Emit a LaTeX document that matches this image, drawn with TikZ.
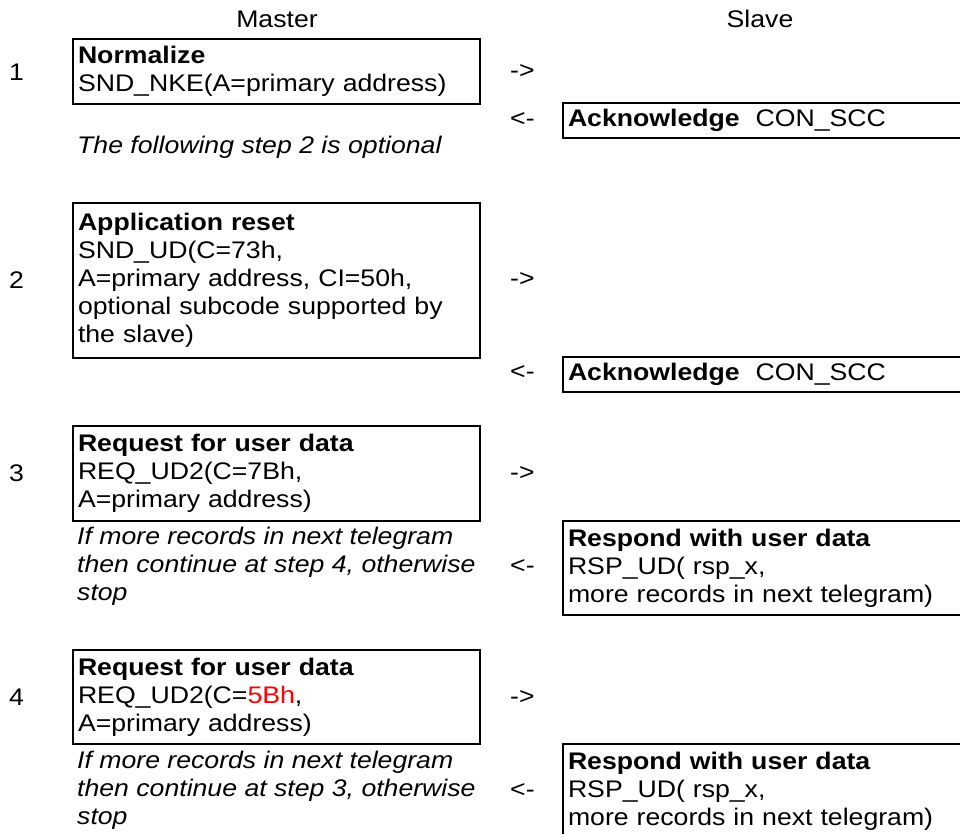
\documentclass[tikz,border=0pt]{standalone}
\usepackage{fontspec}
\setmainfont{Liberation Sans}[FakeStretch=1.11]
\begin{document}
\begin{tikzpicture}[x=1pt,y=-1pt,
  every node/.style={font=\fontsize{24}{28}\selectfont, inner sep=0pt},
  mbox/.style={draw, line width=2pt, anchor=north west, align=left,
    inner xsep=5pt, inner ysep=0pt, minimum width=407pt, text width=397pt},
  sbox/.style={draw, line width=2pt, anchor=north west, align=left,
    inner xsep=5pt, inner ysep=0pt, minimum width=438pt, text width=428pt},
  lbl/.style={anchor=west, align=left},
  num/.style={anchor=west},
  arr/.style={anchor=west}]
\useasboundingbox (0,0) rectangle (960,834);
\clip (0,0) rectangle (960,834);

\node (master) at (277,19) {Master};
\node (slave) at (760,19) {Slave};

% step 1
\node (n1) [num] at (9,72) {1};
\node (b1) [mbox, minimum height=65pt] at (72,38)
  {\textbf{Normalize}\\SND\_NKE(A=primary address)};
\node (s1) [arr] at (510,72) {->};
\node (r1) [arr] at (510,120) {<-};
\node (a1) [sbox, minimum height=35pt] at (562,102)
  {\textbf{Acknowledge}\ \ CON\_SCC};
\node (opt) [lbl] at (77,147) {\itshape The following step 2 is optional};

% step 2
\node (n2) [num] at (9,280) {2};
\node (b2) [mbox, minimum height=155pt] at (72,202)
  {\textbf{Application reset}\\SND\_UD(C=73h,\\A=primary address, CI=50h,\\optional subcode supported by\\the slave)};
\node (s2) [arr] at (510,280) {->};
\node (r2) [arr] at (510,373) {<-};
\node (a2) [sbox, minimum height=35pt] at (562,356)
  {\textbf{Acknowledge}\ \ CON\_SCC};

% step 3
\node (n3) [num] at (9,473) {3};
\node (b3) [mbox, minimum height=95pt] at (72,425)
  {\textbf{Request for user data}\\REQ\_UD2(C=7Bh,\\A=primary address)};
\node (s3) [arr] at (510,473) {->};
\node (i3) [lbl] at (77,566)
  {\itshape If more records in next telegram\\\itshape then continue at step 4, otherwise\\\itshape stop};
\node (r3) [arr] at (510,566) {<-};
\node (d3) [sbox, minimum height=94pt] at (562,520)
  {\textbf{Respond with user data}\\RSP\_UD( rsp\_x,\\more records in next telegram)};

% step 4
\node (n4) [num] at (9,697) {4};
\node (b4) [mbox, minimum height=94pt] at (72,649)
  {\textbf{Request for user data}\\REQ\_UD2(C=\textcolor{red}{5Bh},\\A=primary address)};
\node (s4) [arr] at (510,697) {->};
\node (i4) [lbl] at (77,790)
  {\itshape If more records in next telegram\\\itshape then continue at step 3, otherwise\\\itshape stop};
\node (r4) [arr] at (510,790) {<-};
\node (d4) [sbox, minimum height=94pt] at (562,743)
  {\textbf{Respond with user data}\\RSP\_UD( rsp\_x,\\more records in next telegram)};
\end{tikzpicture}
\end{document}
